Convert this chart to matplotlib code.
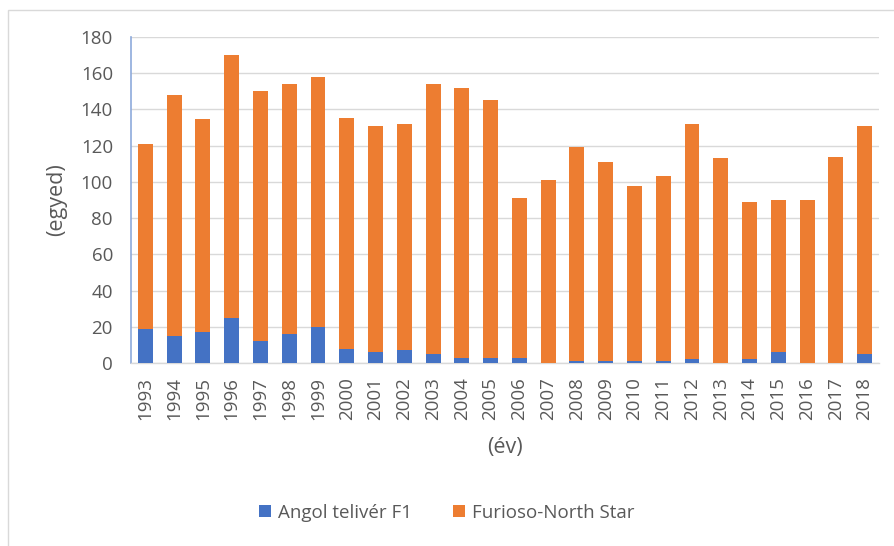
import matplotlib
matplotlib.use("Agg")
import matplotlib.pyplot as plt
import numpy as np
from matplotlib.patches import Rectangle

years = [str(y) for y in range(1993, 2019)]
totals = [121, 148, 135, 170, 150, 154, 158, 135, 131, 132, 154, 152, 145,
          91, 101, 119, 111, 98, 103, 132, 113, 89, 90, 90, 114, 131]
angol = [19, 15, 17, 25, 12, 16, 20, 8, 6, 7, 5, 3, 3,
         3, 0, 1, 1, 1, 1, 2, 0, 2, 6, 0, 0, 5]
furioso = [t - a for t, a in zip(totals, angol)]

BLUE = "#4472C4"
ORANGE = "#ED7D31"
TXT = "#595959"
FS = 13.5
FS_TITLE = 15.5

plt.rcParams['font.family'] = ['Open Sans', 'DejaVu Sans']

fig = plt.figure(figsize=(8.95, 5.46), dpi=100)
fig.patches.append(Rectangle((8/895, -0.1), 1.2, 1 - 10/546 + 0.1,
                             transform=fig.transFigure, fill=False,
                             edgecolor="#d9d9d9", linewidth=1.0))

ax = fig.add_axes([131/895, 1 - 363/546, (879 - 131)/895, (363 - 37)/546])
x = np.arange(len(years))
ax.bar(x, angol, width=0.52, color=BLUE, label="Angol telivér F1", zorder=3)
ax.bar(x, furioso, width=0.52, bottom=angol, color=ORANGE,
       label="Furioso-North Star", zorder=3)

ax.set_xlim(-0.5, len(years) - 0.5)
ax.set_ylim(0, 180)
ax.set_yticks(range(0, 181, 20))
ax.set_xticks(x)
ax.set_xticklabels(years, rotation=90)
ax.tick_params(axis='both', length=0, colors=TXT, labelsize=FS)
ax.tick_params(axis='y', pad=13)
ax.tick_params(axis='x', pad=10)
ax.grid(axis='y', color="#d9d9d9", linewidth=1.0, zorder=0)
for s in ['top', 'right']:
    ax.spines[s].set_visible(False)
ax.spines['left'].set_color("#8eaadb")
ax.spines['left'].set_linewidth(1.2)
ax.spines['bottom'].set_color("#d9d9d9")
ax.spines['bottom'].set_linewidth(1.0)

fig.text(57/895, 1 - 200/546, "(egyed)", rotation=90, ha='center', va='center',
         color=TXT, fontsize=FS_TITLE)
fig.text(505/895, 1 - 448/546, "(év)", ha='center', va='center',
         color=TXT, fontsize=FS_TITLE)

leg = fig.legend(loc='center', bbox_to_anchor=(447/895, 1 - 513/546), ncol=2,
                 frameon=False, fontsize=FS, handlelength=0.6, handleheight=0.6,
                 handletextpad=0.4, columnspacing=2.2)
for t in leg.get_texts():
    t.set_color(TXT)

fig.savefig("out.png", dpi=100)
